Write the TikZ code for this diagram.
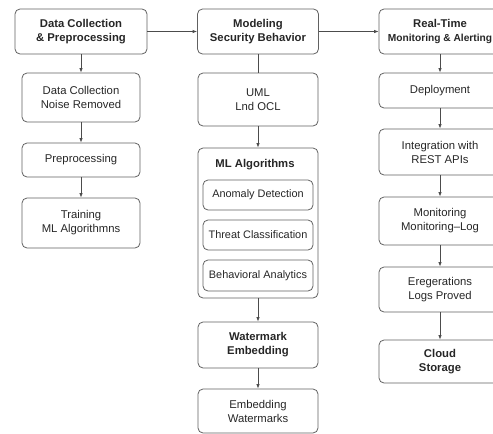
\documentclass[tikz,border=0pt]{standalone}
\usepackage{fontspec}
\setmainfont{Liberation Sans}
\usetikzlibrary{arrows.meta}

\begin{document}
\begin{tikzpicture}[x=1pt,y=-1pt,>={Latex[length=4.5pt,width=3.5pt]},
  box/.style={draw=black!62,line width=.8pt,rounded corners=5pt,align=center,text=black!85,
    inner sep=0pt,font=\fontsize{11.3}{14}\selectfont},
  headbox/.style={box,font=\fontsize{11.3}{14}\selectfont\bfseries},
  subbox/.style={box,font=\fontsize{10.9}{13}\selectfont},
  link/.style={draw=black!70,line width=.8pt}]
  \useasboundingbox (0,0) rectangle (493,434);
  % left column
  \node[headbox,minimum width=132pt,minimum height=45pt] (dcp) at (81,31.5) {Data Collection\\\& Preprocessing};
  \node[box,minimum width=118pt,minimum height=49pt] (noise) at (81,97.5) {Data Collection\\Noise Removed};
  \node[box,minimum width=118pt,minimum height=34pt] (prep) at (81,160) {Preprocessing};
  \node[box,minimum width=118pt,minimum height=50pt] (train) at (81,223) {Training\\ML Algorithmns};
  % middle column
  \node[headbox,minimum width=121pt,minimum height=45pt] (model) at (258,31.5) {Modeling\\Security Behavior};
  \node[box,minimum width=120pt,minimum height=53pt] (uml) at (258,99.5) {UML\\Lnd OCL};
  \node[box,minimum width=120pt,minimum height=150pt] (mlalg) at (258,223) {};
  \node[font=\fontsize{11.3}{14}\selectfont\bfseries,text=black!85] (mltitle) at (255,165) {ML Algorithms};
  \node[subbox,minimum width=110pt,minimum height=30pt] (anom) at (258,195) {Anomaly Detection};
  \node[subbox,minimum width=110pt,minimum height=30pt] (threat) at (258,235) {Threat Classification};
  \node[subbox,minimum width=110pt,minimum height=31pt] (behav) at (258,275.5) {Behavioral Analytics};
  \node[headbox,minimum width=120pt,minimum height=46pt] (wm) at (258,345) {Watermark\\Embedding};
  \node[box,minimum width=120pt,minimum height=44pt] (embed) at (258,411) {Embedding\\Watermarks};
  % right column
  \node[headbox,minimum width=122pt,minimum height=45pt] (rt) at (440,31.5) {Real-Time\\{\fontsize{10.2}{14}\selectfont Monitoring \& Alerting}};
  \node[box,minimum width=122pt,minimum height=35pt] (deploy) at (440,90.5) {Deployment};
  \node[box,minimum width=122pt,minimum height=46pt] (integ) at (440,152) {Integration with\\REST APIs};
  \node[box,minimum width=122pt,minimum height=48pt] (monit) at (440,221) {Monitoring\\Monitoring--Log};
  \node[box,minimum width=122pt,minimum height=45pt] (ereg) at (440,289.5) {Eregerations\\Logs Proved};
  \node[headbox,minimum width=122pt,minimum height=43pt] (cloud) at (440,361.5) {Cloud\\Storage};
  % connectors
  \draw[link,->] (dcp) -- (model);
  \draw[link,->] (model) -- (rt);
  \draw[link] (model) -- (uml);
  \foreach \a/\b in {dcp/noise,noise/prep,prep/train,uml/mlalg,mlalg/wm,wm/embed,
    rt/deploy,deploy/integ,integ/monit,monit/ereg,ereg/cloud}
    \draw[link,->] (\a) -- (\b);
\end{tikzpicture}
\end{document}
